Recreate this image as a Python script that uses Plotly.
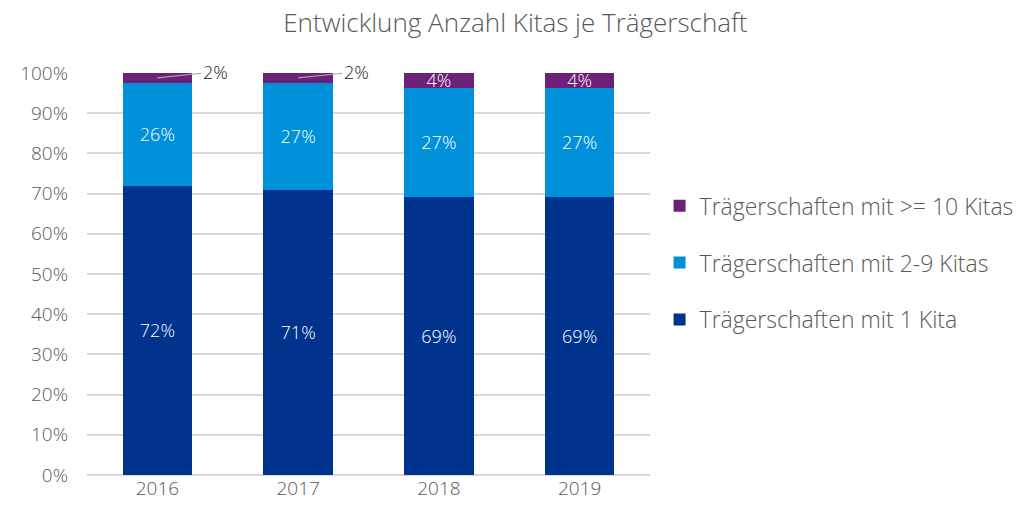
import plotly.graph_objects as go

years = ["2016", "2017", "2018", "2019"]
one_kita = [72.0, 71.0, 69.2, 69.2]
two_nine = [25.6, 26.6, 27.1, 27.1]
ten_plus = [2.4, 2.4, 3.7, 3.7]

names = ["Trägerschaften mit 1 Kita", "Trägerschaften mit 2-9 Kitas", "Trägerschaften mit >= 10 Kitas"]
colors = ["#00338D", "#0091DA", "#6D2077"]
series = [one_kita, two_nine, ten_plus]

FONT = "Open Sans"
W = 300
GREY = "#595959"

fig = go.Figure()
for i, (name, vals, col) in enumerate(zip(names, series, colors)):
    texts = [f"{round(v)}%" if v >= 3 else "" for v in vals]
    fig.add_trace(go.Bar(
        x=years, y=vals, name=name, marker=dict(color=col, line=dict(width=0)),
        text=texts, textposition="inside", insidetextanchor="middle",
        constraintext="none", textangle=0,
        textfont=dict(color="white", size=18, family=FONT, weight=W),
        hoverinfo="skip", legendgroup=f"g{i}", legendrank=3 - i,
    ))

# outside labels for small segments (x given as category index)
annotations = []
for idx, (a, b, c) in enumerate(zip(one_kita, two_nine, ten_plus)):
    if c < 3:
        annotations.append(dict(
            x=idx, y=a + b + c / 2, xref="x", yref="y",
            text=f"{round(c)}%", showarrow=True, arrowhead=0, arrowwidth=1.2,
            arrowcolor="#A6A6A6", ax=58, ay=-6, xanchor="center",
            font=dict(size=18, color="#1a1a1a", family=FONT, weight=W),
        ))

fig.update_layout(
    width=1023, height=505,
    barmode="stack", bargap=0.505,
    plot_bgcolor="white", paper_bgcolor="white",
    margin=dict(l=76, r=379, t=65, b=37),
    title=dict(text="Entwicklung Anzahl Kitas je Trägerschaft", x=0.496, xanchor="center",
               xref="container", yref="container",
               y=0.97, yanchor="middle", font=dict(size=26, color=GREY, family=FONT, weight=W)),
    font=dict(family=FONT, color=GREY, weight=W),
    xaxis=dict(type="category", range=[-0.5, len(years) - 0.5], showgrid=False,
               tickfont=dict(size=19, color=GREY, family=FONT, weight=W), ticks="", showline=False),
    yaxis=dict(range=[0, 100], dtick=10, ticksuffix="%", showgrid=True, gridcolor="#D9D9D9",
               gridwidth=1.5, zeroline=True, zerolinecolor="#D9D9D9", zerolinewidth=1.5,
               tickfont=dict(size=19, color=GREY, family=FONT, weight=W), ticklabelstandoff=18),
    legend=dict(x=1.017, xanchor="left", y=0.528, yanchor="middle",
                traceorder="grouped", tracegroupgap=24,
                font=dict(size=23, color=GREY, family=FONT, weight=W), itemwidth=30),
    annotations=annotations,
    showlegend=True,
)
fig.write_html("out.html")
